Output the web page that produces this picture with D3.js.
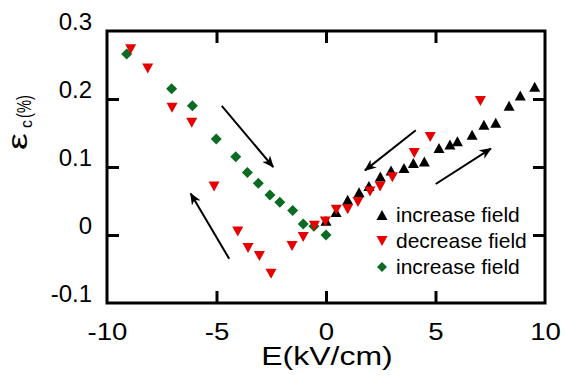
<!DOCTYPE html>
<html>
<head>
<meta charset="utf-8">
<script src="https://cdn.jsdelivr.net/npm/d3@7"></script>
<style>
  html, body { margin: 0; padding: 0; background: #fff; }
  svg { display: block; }
  text { font-family: "Liberation Sans", Arial, sans-serif; fill: #000; }
</style>
</head>
<body>
<svg id="chart" width="567" height="386"></svg>
<script>
// ---- data ----
const incFieldE = [0, 0.46, 0.99, 1.51, 1.96, 2.48, 2.97, 3.56, 3.99, 4.49, 5.16, 5.66, 6.0, 6.67, 7.21, 7.75, 8.36, 8.87, 9.53];
const incFieldStrain = [0.021, 0.034, 0.052, 0.063, 0.072, 0.086, 0.095, 0.0985, 0.106, 0.108, 0.128, 0.133, 0.138, 0.1475, 0.162, 0.165, 0.19, 0.205, 0.218];

const decFieldE = [7.05, 4.76, 4.03, 3.03, 2.47, 2.01, 1.46, 0.99, 0.47, -0.03, -0.53, -1.04, -1.55, -2.51, -3.04, -3.56, -4.03, -5.11, -6.13, -7.03, -8.14, -8.92];
const decFieldStrain = [0.197, 0.144, 0.1206, 0.085, 0.0715, 0.064, 0.0485, 0.038, 0.037, 0.020, 0.0137, -0.003, -0.016, -0.057, -0.031, -0.019, 0.005, 0.0715, 0.165, 0.187, 0.245, 0.273];

const incNegFieldE = [-9.1, -7.05, -6.1, -5.01, -4.12, -3.59, -3.09, -2.56, -2.11, -1.52, -1.04, -0.55, 0];
const incNegFieldStrain = [0.266, 0.215, 0.19, 0.141, 0.115, 0.092, 0.076, 0.059, 0.048, 0.036, 0.016, 0.013, 0.0];

const xTickValues = [-10, -5, 0, 5, 10];
const xTickLabels = ["-10", "-5", "0", "5", "10"];
const yTickValues = [-0.1, 0, 0.1, 0.2, 0.3];
const yTickLabels = ["-0.1", "0", "0.1", "0.2", "0.3"];

const legendLabels = ["increase field", "decrease field", "increase field"];

// arrows (data units): [E0, s0, E1, s1]
const arrowsData = [
  [-4.76, 0.190, -2.41, 0.100],
  [-4.42, -0.035, -6.18, 0.061],
  [4.10, 0.154, 1.78, 0.095],
  [5.01, 0.075, 7.53, 0.127]
];

// ---- layout ----
const svg = d3.select("#chart");
const mLeft = 107, mRight = 545, mTop = 31, mBottom = 303;
const x = d3.scaleLinear().domain([-10, 10]).range([mLeft, mRight]);
const y = d3.scaleLinear().domain([-0.1, 0.3]).range([mBottom, mTop]);

const colBlack = "#000000", colRed = "#e60000", colGreen = "#0b6b22";

// arrow marker
const defs = svg.append("defs");
defs.append("marker")
  .attr("id", "ah").attr("viewBox", "0 0 12 10")
  .attr("refX", 11).attr("refY", 5)
  .attr("markerWidth", 12).attr("markerHeight", 10)
  .attr("markerUnits", "userSpaceOnUse")
  .attr("orient", "auto")
  .append("path").attr("d", "M0,0 L12,5 L0,10 L3.5,5 Z").attr("fill", "#000");

// ticks (inward) on all four sides, interior values only
const tickLen = 12;
const xInner = xTickValues.filter(v => v > -10 && v < 10);
const yInner = yTickValues.filter(v => v > -0.1 && v < 0.3);

const gTicks = svg.append("g");
gTicks.append("g").attr("transform", `translate(0,${mBottom})`)
  .call(d3.axisBottom(x).tickValues(xInner).tickSize(-tickLen).tickFormat(""));
gTicks.append("g").attr("transform", `translate(0,${mTop})`)
  .call(d3.axisTop(x).tickValues(xInner).tickSize(-tickLen).tickFormat(""));
gTicks.append("g").attr("transform", `translate(${mLeft},0)`)
  .call(d3.axisLeft(y).tickValues(yInner).tickSize(-tickLen).tickFormat(""));
gTicks.append("g").attr("transform", `translate(${mRight},0)`)
  .call(d3.axisRight(y).tickValues(yInner).tickSize(-tickLen).tickFormat(""));
gTicks.selectAll(".domain").remove();
gTicks.selectAll(".tick line").attr("stroke", "#000").attr("stroke-width", 3);

// tick labels
const gx = svg.append("g").attr("transform", `translate(0,${mBottom})`)
  .call(d3.axisBottom(x).tickValues(xTickValues).tickSize(0).tickPadding(20)
    .tickFormat((d, i) => xTickLabels[i]));
gx.select(".domain").remove();
gx.selectAll("text").attr("font-size", 24).attr("font-family", "Liberation Sans, Arial, sans-serif").attr("fill", "#000")
  .attr("transform", "scale(1.15,1)");

const gy = svg.append("g").attr("transform", `translate(${mLeft},0)`)
  .call(d3.axisLeft(y).tickValues(yTickValues).tickSize(0).tickPadding(15)
    .tickFormat((d, i) => yTickLabels[i]));
gy.select(".domain").remove();
gy.selectAll("text").attr("font-size", 24).attr("font-family", "Liberation Sans, Arial, sans-serif").attr("fill", "#000")
  .attr("dy", "-0.05em");

// frame
svg.append("rect").attr("x", mLeft).attr("y", mTop)
  .attr("width", mRight - mLeft).attr("height", mBottom - mTop)
  .attr("fill", "none").attr("stroke", "#000").attr("stroke-width", 3);

// axis titles
svg.append("g").attr("transform", `translate(${(mLeft + mRight) / 2 + 1},365) scale(1.28,1)`)
  .append("text").attr("text-anchor", "middle").attr("font-size", 25)
  .text("E(kV/cm)");

const yg = svg.append("g").attr("transform", "translate(27,150) rotate(-90)");
yg.append("text").attr("x", 0).attr("y", 0)
  .attr("transform", "scale(1.4,1)")
  .attr("font-family", "Liberation Sans, Arial, sans-serif").attr("font-size", 27).text("ε");
yg.append("text").attr("x", 22).attr("y", 5)
  .attr("font-size", 16).text("c");
yg.append("g").attr("transform", "translate(32,4) scale(0.7,1)")
  .append("text").attr("font-size", 21).text("(%)");

// arrows
svg.append("g").selectAll("line").data(arrowsData).join("line")
  .attr("x1", d => x(d[0])).attr("y1", d => y(d[1]))
  .attr("x2", d => x(d[2])).attr("y2", d => y(d[3]))
  .attr("stroke", "#000").attr("stroke-width", 2)
  .attr("marker-end", "url(#ah)");

// symbols
const triUp = (w, h) => `M0,${-h / 2}L${w / 2},${h / 2}L${-w / 2},${h / 2}Z`;
const triDown = (w, h) => `M0,${h / 2}L${w / 2},${-h / 2}L${-w / 2},${-h / 2}Z`;
const diamond = (w, h) => `M0,${-h / 2}L${w / 2},0L0,${h / 2}L${-w / 2},0Z`;

const greenPts = incNegFieldE.map((e, i) => [e, incNegFieldStrain[i]]);
const blackPts = incFieldE.map((e, i) => [e, incFieldStrain[i]]);
const redPts = decFieldE.map((e, i) => [e, decFieldStrain[i]]);

svg.append("g").selectAll("path").data(greenPts).join("path")
  .attr("transform", d => `translate(${x(d[0])},${y(d[1])})`)
  .attr("d", diamond(11, 11)).attr("fill", colGreen);
svg.append("g").selectAll("path").data(blackPts).join("path")
  .attr("transform", d => `translate(${x(d[0])},${y(d[1])})`)
  .attr("d", triUp(11, 10)).attr("fill", colBlack);
svg.append("g").selectAll("path").data(redPts).join("path")
  .attr("transform", d => `translate(${x(d[0])},${y(d[1])})`)
  .attr("d", triDown(11, 10)).attr("fill", colRed);

// legend
const legendSyms = [triUp(11, 10), triDown(11, 10), diamond(10, 10)];
const legendCols = [colBlack, colRed, colGreen];
const lg = svg.append("g");
legendLabels.forEach((lab, i) => {
  const cy = 215 + i * 26;
  lg.append("path").attr("transform", `translate(382,${cy})`)
    .attr("d", legendSyms[i]).attr("fill", legendCols[i]);
  lg.append("text").attr("x", 396).attr("y", cy + 7)
    .attr("font-size", 21).text(lab);
});
</script>
</body>
</html>
